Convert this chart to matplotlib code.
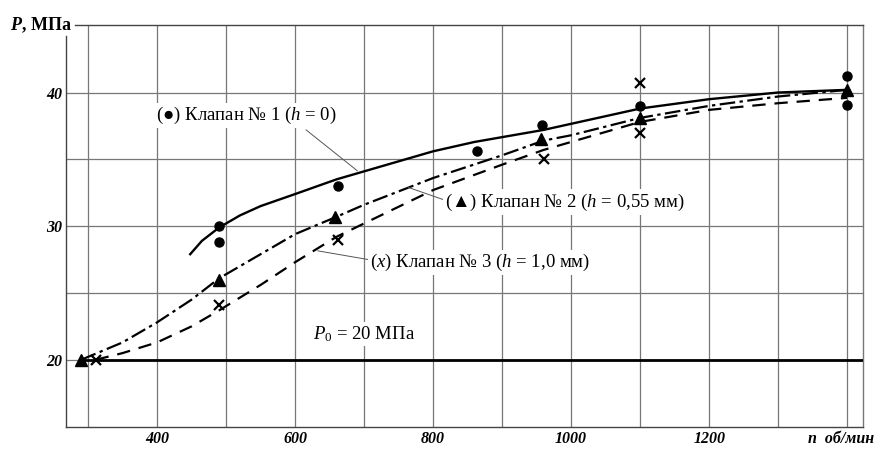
import matplotlib
matplotlib.use("Agg")
import matplotlib.pyplot as plt
from matplotlib.transforms import blended_transform_factory

plt.rcParams['font.family'] = ['Liberation Serif', 'DejaVu Serif']
plt.rcParams['mathtext.fontset'] = 'custom'
plt.rcParams['mathtext.rm'] = 'Liberation Serif'
plt.rcParams['mathtext.it'] = 'Liberation Serif:italic'
plt.rcParams['mathtext.bf'] = 'Liberation Serif:italic:bold'

# measured points
n1 = [490, 490, 662, 864, 958, 1100, 1400, 1400]
p1 = [30.0, 28.8, 33.0, 35.6, 37.6, 39.0, 41.2, 39.1]
n2 = [290, 490, 658, 957, 1100, 1400]
p2 = [20.0, 26.0, 30.7, 36.5, 38.1, 40.2]
n3 = [311, 490, 662, 960, 1100, 1100]
p3 = [20.0, 24.1, 29.0, 35.0, 37.0, 40.7]

# fitted curves
c1_n = [448, 465, 490, 520, 550, 600, 660, 700, 800, 860, 960, 1100, 1200, 1300, 1400]
c1_p = [27.9, 28.9, 29.9, 30.8, 31.5, 32.4, 33.5, 34.1, 35.6, 36.3, 37.2, 38.8, 39.5, 40.0, 40.2]
c2_n = [290, 350, 400, 450, 490, 550, 600, 660, 700, 800, 900, 960, 1000, 1100, 1200, 1300, 1400]
c2_p = [20.0, 21.3, 22.8, 24.5, 26.1, 27.9, 29.4, 30.7, 31.6, 33.6, 35.3, 36.4, 36.8, 38.1, 39.0, 39.7, 40.2]
c3_n = [311, 350, 400, 450, 490, 550, 600, 660, 700, 800, 900, 960, 1000, 1100, 1200, 1300, 1400]
c3_p = [20.0, 20.5, 21.3, 22.5, 23.7, 25.6, 27.3, 29.2, 30.2, 32.7, 34.6, 35.7, 36.3, 37.8, 38.7, 39.2, 39.6]

p0 = 20
xticks = [400, 600, 800, 1000, 1200]
ygrid = [20, 25, 30, 35, 40]
xgrid = list(range(300, 1500, 100))

fig = plt.figure(figsize=(8.75, 4.5), dpi=100)
ax = fig.add_axes([0.0754, 0.052, 0.9109, 0.8924])
ax.set_xlim(268, 1423)
ax.set_ylim(15, 45.05)

for g in xgrid:
    ax.axvline(g, color='#777777', lw=0.9, zorder=1)
for g in ygrid:
    ax.axhline(g, color='#777777', lw=0.9, zorder=1)

ax.plot([290, 1423], [p0, p0], color='black', lw=2.0, zorder=3)

ax.plot(c1_n, c1_p, color='black', lw=1.7, zorder=3)
ax.plot(c2_n, c2_p, color='black', lw=1.6, dashes=(7, 2, 1.5, 2), zorder=3)
ax.plot(c3_n, c3_p, color='black', lw=1.6, dashes=(6, 4), zorder=3)

ax.plot(n1, p1, 'o', color='black', ms=6.5, zorder=5)
ax.plot(n2, p2, '^', color='black', ms=8, zorder=5)
ax.plot(n3, p3, 'x', color='black', ms=7, mew=1.6, zorder=5)

bb = dict(facecolor='white', edgecolor='none', pad=1.5)
fs = 13.5
ax.text(398, 38.3, '(●) Клапан № 1 ($h$ = 0)', fontsize=fs, va='center', ha='left', bbox=bb, zorder=4)
ax.plot([616, 690], [37.2, 34.15], color='#555555', lw=0.7, zorder=3)
ax.text(817, 31.8, '(▲) Клапан № 2 ($h$ = 0,55 мм)', fontsize=fs, va='center', ha='left', bbox=bb, zorder=4)
ax.plot([764, 814], [32.9, 32.0], color='#555555', lw=0.7, zorder=3)
ax.text(709, 27.3, '($x$) Клапан № 3 ($h$ = 1,0 мм)', fontsize=fs, va='center', ha='left', bbox=bb, zorder=4)
ax.plot([633, 706], [28.15, 27.5], color='#555555', lw=0.7, zorder=3)
ax.text(626, 21.9, '$P_0$ = 20 МПа', fontsize=fs, va='center', ha='left', bbox=bb, zorder=4)

ax.set_xticks(xticks)
ax.set_yticks([20, 30, 40])
ax.tick_params(length=0, pad=3, labelsize=11.5)
for lab in ax.get_xticklabels() + ax.get_yticklabels():
    lab.set_fontweight('bold')
    lab.set_fontstyle('italic')

tr = blended_transform_factory(ax.transData, ax.transAxes)
ax.text(1343, -0.012, 'n  об/мин', transform=tr, fontsize=11.5, fontstyle='italic',
        fontweight='bold', ha='left', va='top', clip_on=False)

for s in ax.spines.values():
    s.set_color('#444444')
    s.set_linewidth(1.0)
ax.spines['left'].set_bounds(15, 44.2)
ax.spines['top'].set_bounds(281, 1423)
ax.spines['right'].set_color('#777777')

fig.text(0.011, 0.944, r'$\mathbf{P}$, МПа', fontsize=13, fontweight='bold', va='center', ha='left')

fig.savefig('out.png', dpi=100)
